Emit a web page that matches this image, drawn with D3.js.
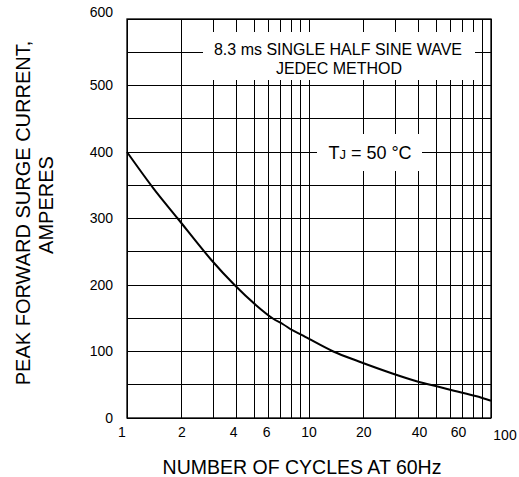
<!DOCTYPE html>
<html><head><meta charset="utf-8">
<script src="https://cdn.jsdelivr.net/npm/d3@7"></script>
<style>body{margin:0;background:#fff}svg{display:block}text{font-family:"Liberation Sans",Arial,sans-serif;fill:#000}</style>
</head><body>
<svg id="c" width="519" height="477"></svg>
<script>
const cycles = [1, 1.4, 1.9, 2.9, 3.9, 5.1, 6.3, 7.2, 8.1, 9.1, 10, 13.6, 18.8, 28.7, 39.4, 51.5, 62.6, 82.3, 100];
const current = [400, 345, 300, 238, 200, 170, 150, 141, 132, 125, 119, 100, 85, 67, 55, 47, 41, 33, 26];
const xGrid = [1,2,3,4,5,6,7,8,9,10,20,30,40,50,60,70,80,90,100];
const xTickLabels = [1,2,4,6,10,20,40,60,100];
const yGrid = d3.range(0, 601, 50);
const yTickLabels = [0,100,200,300,400,500,600];

const svg = d3.select("#c");
const L = 127, R = 491, T = 19, B = 418;
const x = d3.scaleLog().domain([1,100]).range([L,R]);
const y = d3.scaleLinear().domain([0,600]).range([B,T]);

const g = svg.append("g");
g.selectAll("line.h").data(yGrid).join("line")
  .attr("x1",L).attr("x2",R).attr("y1",d=>y(d)).attr("y2",d=>y(d))
  .attr("stroke","#000").attr("stroke-width",1).attr("shape-rendering","crispEdges");
g.selectAll("line.v").data(xGrid).join("line")
  .attr("x1",d=>x(d)).attr("x2",d=>x(d)).attr("y1",T).attr("y2",B)
  .attr("stroke","#000").attr("stroke-width",1).attr("shape-rendering","crispEdges");
svg.append("rect").attr("x",L).attr("y",T).attr("width",R-L).attr("height",B-T)
  .attr("fill","none").attr("stroke","#000").attr("stroke-width",1.3);

// annotation boxes (white)
svg.append("rect").attr("x",203).attr("y",32).attr("width",272).attr("height",48).attr("fill","#fff");
svg.append("rect").attr("x",317).attr("y",134).attr("width",105).attr("height",37).attr("fill","#fff");

svg.append("text").attr("x",338).attr("y",55).attr("text-anchor","middle").attr("font-size",16)
  .text("8.3 ms SINGLE HALF SINE WAVE");
svg.append("text").attr("x",339).attr("y",74).attr("text-anchor","middle").attr("font-size",16)
  .text("JEDEC METHOD");
const tj = svg.append("text").attr("x",370).attr("y",159).attr("text-anchor","middle").attr("font-size",18);
tj.append("tspan").text("T");
tj.append("tspan").attr("font-size",13).text("J");
tj.append("tspan").text(" = 50 \u00B0C");

// curve
const line = d3.line().x((d,i)=>x(cycles[i])).y(d=>y(d)).curve(d3.curveCatmullRom.alpha(0.5));
svg.append("path").attr("d",line(current)).attr("fill","none").attr("stroke","#000").attr("stroke-width",2);

// y tick labels
svg.selectAll("text.yt").data(yTickLabels).join("text")
  .attr("x",113).attr("y",d=> d===600 ? y(d)-7 : y(d)).attr("dy","0.35em")
  .attr("text-anchor","end").attr("font-size",14).text(d=>d);
// x tick labels
const xdx = {1:-5, 2:0, 4:-3, 6:-2, 10:0, 20:0, 40:1, 60:8, 100:14};
svg.selectAll("text.xt").data(xTickLabels).join("text")
  .attr("x",d=>x(d)+xdx[d]).attr("y",d=> d===100 ? 440 : 437)
  .attr("text-anchor","middle").attr("font-size",14).text(d=>d);

svg.append("text").attr("x",302).attr("y",474).attr("text-anchor","middle").attr("font-size",19.5)
  .text("NUMBER OF CYCLES AT 60Hz");
const yt = svg.append("g").attr("transform","translate(0,213) rotate(-90)");
yt.append("text").attr("x",0).attr("y",30).attr("text-anchor","middle").attr("font-size",20)
  .text("PEAK FORWARD SURGE CURRENT,");
yt.append("text").attr("x",8).attr("y",53).attr("text-anchor","middle").attr("font-size",20)
  .text("AMPERES");
</script>
</body></html>
